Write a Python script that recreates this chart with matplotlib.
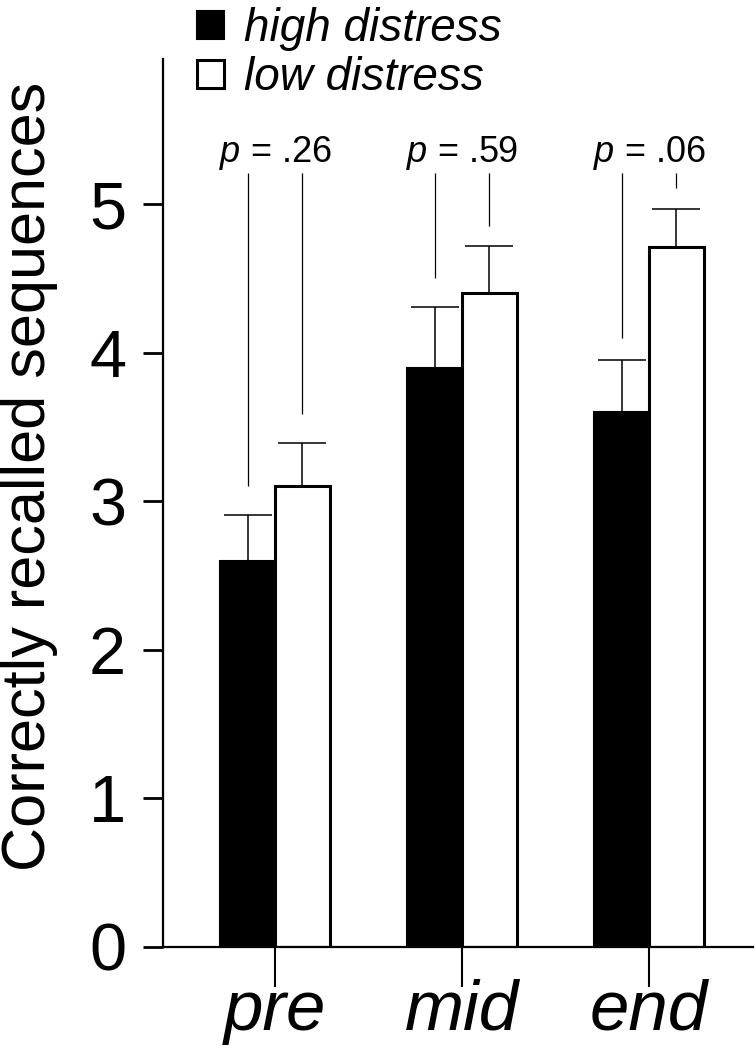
import matplotlib
matplotlib.use('Agg')
import matplotlib.pyplot as plt
import numpy as np
from matplotlib import font_manager

phases = ['pre', 'mid', 'end']
high_mean = [2.60, 3.90, 3.60]
high_sem = [0.31, 0.41, 0.35]
low_mean = [3.10, 4.40, 4.71]
low_sem = [0.29, 0.32, 0.26]
p_values = ['.26', '.59', '.06']
# lower ends of the thin lines hanging under each p value
p_line_high = [3.10, 4.50, 4.10]
p_line_low = [3.59, 4.85, 5.11]
p_line_top = 5.21
y_ticks = [0, 1, 2, 3, 4, 5]

plt.rcParams['font.family'] = ['Liberation Sans', 'DejaVu Sans']
plt.rcParams['mathtext.fontset'] = 'custom'
plt.rcParams['mathtext.it'] = 'Liberation Sans:italic'
plt.rcParams['mathtext.rm'] = 'Liberation Sans'

# the y label in the original looks like a narrow face
try:
    font_manager.findfont(font_manager.FontProperties(family='Liberation Sans Narrow'),
                          fallback_to_default=False)
    ylab_font, ylab_size = 'Liberation Sans Narrow', 53
except ValueError:
    ylab_font, ylab_size = 'Liberation Sans', 44

fig = plt.figure(figsize=(7.56, 10.55), dpi=100)
ax = fig.add_axes([0.2156, 0.1024, 0.7804, 0.8416])

x = np.arange(len(phases))
w = 0.294
ax.bar(x - w / 2, high_mean, w, color='black', edgecolor='black', linewidth=1.5,
       label='high distress', zorder=2)
ax.bar(x + w / 2, low_mean, w, color='white', edgecolor='black', linewidth=2.2,
       label='low distress', zorder=2)
ax.errorbar(x - w / 2, high_mean, yerr=[np.zeros(len(x)), high_sem], fmt='none',
            ecolor='black', elinewidth=1.1, capsize=17, capthick=1.1, zorder=1)
ax.errorbar(x + w / 2, low_mean, yerr=[np.zeros(len(x)), low_sem], fmt='none',
            ecolor='black', elinewidth=1.1, capsize=17, capthick=1.1, zorder=1)

# p value labels with their hanging lines
ax.vlines(x - w / 2, p_line_high, p_line_top, color='black', linewidth=0.9)
ax.vlines(x + w / 2, p_line_low, p_line_top, color='black', linewidth=0.9)
for xi, p in zip(x, p_values):
    ax.text(xi, 5.28, '$p$ = ' + p, ha='center', va='baseline', fontsize=26)

ax.set_xlim(-0.599, 2.556)
ax.set_ylim(0, 5.976)
ax.set_yticks(y_ticks)
ax.set_xticks(x)
ax.set_xticklabels(phases, fontsize=51, style='italic')
ax.tick_params(axis='y', direction='out', length=14.5, width=2, labelsize=48, pad=12)
ax.tick_params(axis='x', direction='out', length=29, width=1.5, pad=-6)
for s in ['top', 'right']:
    ax.spines[s].set_visible(False)
for s in ['left', 'bottom']:
    ax.spines[s].set_linewidth(1.6)

fig.text(0.039, 0.548, 'Correctly recalled sequences', rotation=90, ha='center',
         va='center', family=[ylab_font, 'Liberation Sans'], fontsize=ylab_size)

ax.legend(loc='upper left', bbox_to_anchor=(197 / 756, 0.993), bbox_transform=fig.transFigure,
          frameon=False, prop={'style': 'italic', 'size': 33}, handlelength=0.58,
          handleheight=0.58, handletextpad=0.45, labelspacing=0.1, borderpad=0,
          borderaxespad=0)

fig.savefig('out.png', dpi=100)
